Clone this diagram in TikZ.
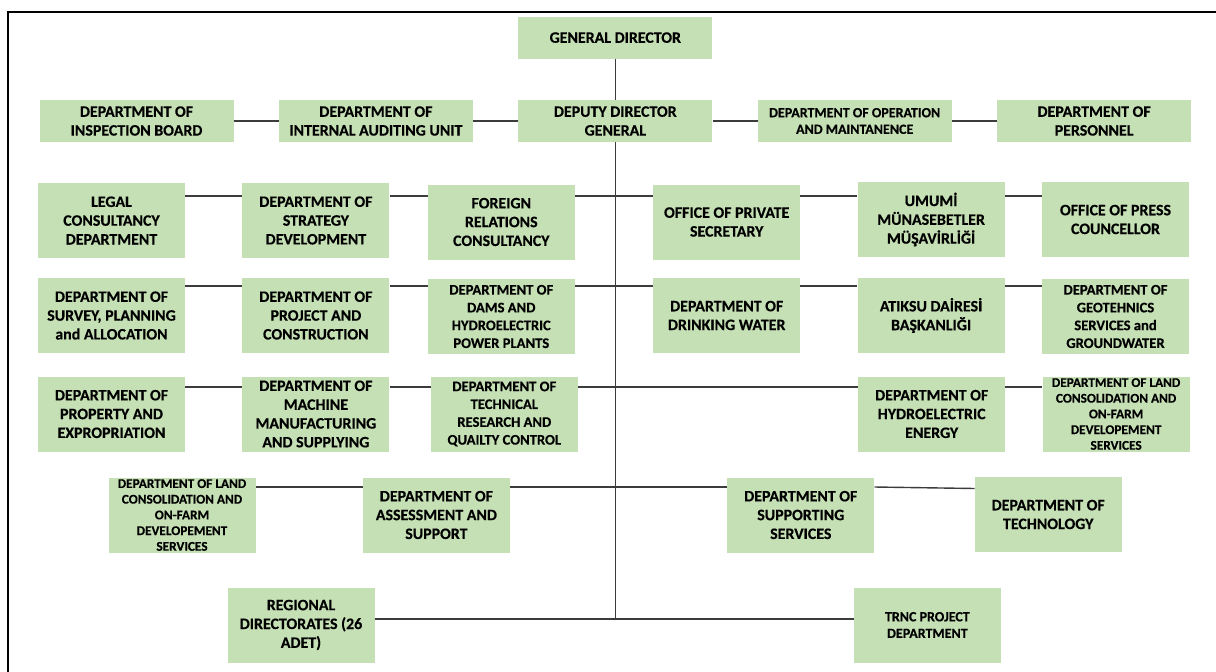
\documentclass[tikz,border=0pt]{standalone}
\usepackage{fontspec}
\setmainfont{Carlito}[BoldFeatures={FakeBold=0.4}]
\usetikzlibrary{positioning}
\definecolor{boxgreen}{HTML}{C5E0B4}
\definecolor{linegray}{HTML}{3C3C3C}
\tikzstyle{block} = [
  rectangle, fill=boxgreen, align=center, inner sep=0pt,
  minimum width=147pt, minimum height=75pt,
  font=\fontsize{15.9}{18.8}\selectfont\bfseries
]
\tikzstyle{wideblock} = [block, minimum width=194pt, minimum height=42pt]
\tikzstyle{midtext} = [font=\fontsize{14.6}{17.8}\selectfont\bfseries]
\tikzstyle{smalltext} = [font=\fontsize{14}{16.6}\selectfont\bfseries]
\tikzstyle{tinytext} = [font=\fontsize{13.3}{15.7}\selectfont\bfseries]
\tikzstyle{link} = [draw=linegray, line width=1.4pt]

\begin{document}
\begin{tikzpicture}[x=1pt, y=-1pt]
    \useasboundingbox (0,0) rectangle (1216,672);
    \draw[line width=2pt] (8,672) -- (8,12) -- (1216,12);

    % top rows
    \node[wideblock] (insp) at (136.5,121) {DEPARTMENT OF\\INSPECTION BOARD};
    \node[wideblock, right=45pt of insp] (audit) {DEPARTMENT OF\\INTERNAL AUDITING UNIT};
    \node[wideblock, right=45pt of audit] (deputy) {DEPUTY DIRECTOR\\GENERAL};
    \node[wideblock, smalltext, right=45pt of deputy] (oper) {DEPARTMENT OF OPERATION\\AND MAINTANENCE};
    \node[wideblock, right=45pt of oper] (pers) {DEPARTMENT OF\\PERSONNEL};
    \node[wideblock, above=41pt of deputy] (gd) {GENERAL DIRECTOR};

    \node[block] (legal) at (111.5,220.5) {LEGAL\\CONSULTANCY\\DEPARTMENT};
    \node[block, right=57pt of legal] (strat) {DEPARTMENT OF\\STRATEGY\\DEVELOPMENT};
    \node[block, right=38pt of strat, yshift=-1.5pt] (foreign) {FOREIGN\\RELATIONS\\CONSULTANCY};
    \node[block, right=78pt of foreign] (private) {OFFICE OF PRIVATE\\SECRETARY};
    \node[block, right=57pt of private, yshift=2.5pt] (umumi) {UMUMİ\\MÜNASEBETLER\\MÜŞAVİRLİĞİ};
    \node[block, right=37pt of umumi] (press) {OFFICE OF PRESS\\COUNCELLOR};

    \node[block] (survey) at (111.5,315.5) {DEPARTMENT OF\\SURVEY, PLANNING\\and ALLOCATION};
    \node[block, right=57pt of survey] (project) {DEPARTMENT OF\\PROJECT AND\\CONSTRUCTION};
    \node[block, midtext, right=38pt of project, yshift=-1pt] (dams) {DEPARTMENT OF\\DAMS AND\\HYDROELECTRIC\\POWER PLANTS};
    \node[block, right=78pt of dams, yshift=1pt] (drink) {DEPARTMENT OF\\DRINKING WATER};
    \node[block, right=57pt of drink] (atiksu) {ATIKSU DAİRESİ\\BAŞKANLIĞI};
    \node[block, midtext, right=37pt of atiksu, yshift=-1pt] (geo) {DEPARTMENT OF\\GEOTEHNICS\\SERVICES and\\GROUNDWATER};

    \node[block] (property) at (111.5,414) {DEPARTMENT OF\\PROPERTY AND\\EXPROPRIATION};
    \node[block, right=57pt of property] (machine) {DEPARTMENT OF\\MACHINE\\MANUFACTURING\\AND SUPPLYING};
    \node[block, midtext, right=41pt of machine] (technical) {DEPARTMENT OF\\TECHNICAL\\RESEARCH AND\\QUAILTY CONTROL};
    \node[block, right=280pt of technical] (hydro) {DEPARTMENT OF\\HYDROELECTRIC\\ENERGY};
    \node[block, tinytext, right=37pt of hydro] (landr) {DEPARTMENT OF LAND\\CONSOLIDATION AND\\ON-FARM\\DEVELOPEMENT\\SERVICES};

    \node[block, tinytext] (landl) at (182,515) {DEPARTMENT OF LAND\\CONSOLIDATION AND\\ON-FARM\\DEVELOPEMENT\\SERVICES};
    \node[block, right=107pt of landl] (assess) {DEPARTMENT OF\\ASSESSMENT AND\\SUPPORT};
    \node[block, right=217pt of assess] (support) {DEPARTMENT OF\\SUPPORTING\\SERVICES};
    \node[block, right=100pt of support, yshift=0.5pt] (techno) {DEPARTMENT OF\\TECHNOLOGY};

    \node[block] (regional) at (301,625) {REGIONAL\\DIRECTORATES (26\\ADET)};
    \node[block, smalltext, right=479pt of regional] (trnc) {TRNC PROJECT\\DEPARTMENT};

    % rows of the spine
    \coordinate (r2) at (614.5,196);
    \coordinate (r3) at (614.5,286);
    \coordinate (r4) at (614.5,387);
    \coordinate (r5) at (614.5,487);
    \coordinate (r6) at (614.5,619);

    \draw[link] (gd) -- (deputy);
    \draw[link] (deputy) -- (deputy |- r6);

    \draw[link] (insp) -- (audit);
    \draw[link] (audit) -- (deputy);
    \draw[link] (deputy) -- (oper);
    \draw[link] (oper) -- (pers);

    \draw[link] (legal.east |- r2) -- (strat.west |- r2);
    \draw[link] (strat.east |- r2) -- (foreign.west |- r2);
    \draw[link] (foreign.east |- r2) -- (private.west |- r2);
    \draw[link] (private.east |- r2) -- (umumi.west |- r2);
    \draw[link] (umumi.east |- r2) -- (press.west |- r2);

    \draw[link] (survey.east |- r3) -- (project.west |- r3);
    \draw[link] (project.east |- r3) -- (dams.west |- r3);
    \draw[link] (dams.east |- r3) -- (drink.west |- r3);
    \draw[link] (drink.east |- r3) -- (atiksu.west |- r3);
    \draw[link] (atiksu.east |- r3) -- (geo.west |- r3);

    \draw[link] (property.east |- r4) -- (machine.west |- r4);
    \draw[link] (machine.east |- r4) -- (technical.west |- r4);
    \draw[link] (technical.east |- r4) -- (hydro.west |- r4);
    \draw[link] (hydro.east |- r4) -- (landr.west |- r4);

    \draw[link] (landl.east |- r5) -- (assess.west |- r5);
    \draw[link] (assess.east |- r5) -- (support.west |- r5);
    \draw[link] (support.east |- r5) -- ([yshift=-1.5pt]techno.west |- r5);

    \draw[link] (regional.east |- r6) -- (trnc.west |- r6);
\end{tikzpicture}
\end{document}
